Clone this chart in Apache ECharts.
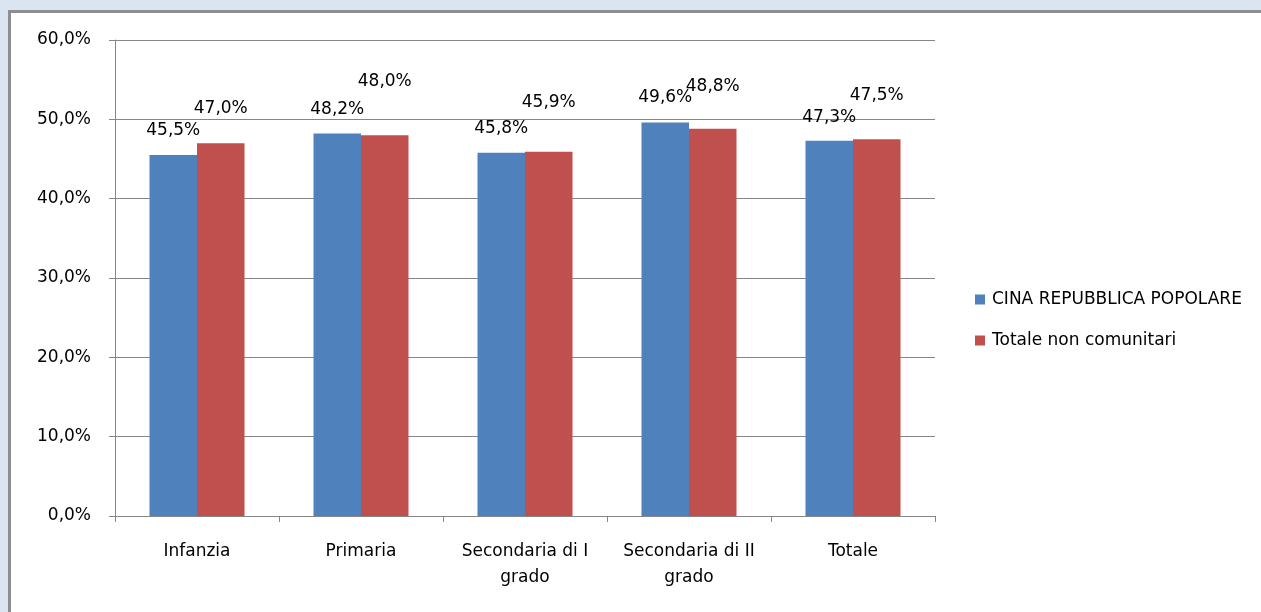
<!DOCTYPE html>
<html>
<head>
<meta charset="utf-8">
<script src="https://cdn.jsdelivr.net/npm/echarts@6/dist/echarts.min.js"></script>
<style>
html, body { margin: 0; padding: 0; width: 1261px; height: 612px; overflow: hidden; background: #dbe5f1; }
#frame { position: absolute; left: 8px; top: 10px; width: 2000px; height: 2000px; background: #ffffff; border-left: 3px solid #8e8e8e; border-top: 3px solid #8e8e8e; }
#chart { position: absolute; left: 0; top: 0; width: 1261px; height: 612px; }
</style>
</head>
<body>
<div id="frame"></div>
<div id="chart"></div>
<script>
const categories = ['Infanzia', 'Primaria', 'Secondaria di I\ngrado', 'Secondaria di II\ngrado', 'Totale'];
const seriesNames = ['CINA REPUBBLICA POPOLARE', 'Totale non comunitari'];
const cinaValues = [45.5, 48.2, 45.8, 49.6, 47.3];
const totaleValues = [47.0, 48.0, 45.9, 48.8, 47.5];
const yTicks = [0, 10, 20, 30, 40, 50, 60];

// label layout (distance above bar top, px)
const cinaLabelDistance = [16, 16, 16, 16, 15];
const totaleLabelDistance = [26, 45, 41, 34, 35];

const FONT = 'DejaVu Sans';
const fmt = v => v.toFixed(1).replace('.', ',') + '%';

function buildData(values, dists) {
  return values.map((v, i) => ({ value: v, label: { distance: dists[i] } }));
}

const chart = echarts.init(document.getElementById('chart'), null, { renderer: 'canvas' });
chart.setOption({
  animation: false,
  backgroundColor: 'transparent',
  textStyle: { fontFamily: FONT },
  grid: { left: 115, right: 326, top: 40, bottom: 96, containLabel: false },
  legend: {
    orient: 'vertical',
    left: 970,
    top: 286,
    itemWidth: 10,
    itemHeight: 10,
    itemGap: 24,
    icon: 'rect',
    textStyle: { fontFamily: FONT, fontSize: 17, color: '#000', padding: [0, 0, 0, 2] },
    data: seriesNames
  },
  xAxis: {
    type: 'category',
    data: categories,
    axisLine: { lineStyle: { color: '#868686', width: 1 } },
    axisTick: { show: true, length: 6, lineStyle: { color: '#868686' } },
    axisLabel: { margin: 23, fontFamily: FONT, fontSize: 17, color: '#000', lineHeight: 26, interval: 0 },
    splitLine: { show: false }
  },
  yAxis: {
    type: 'value',
    min: yTicks[0],
    max: yTicks[yTicks.length - 1],
    interval: 10,
    axisLine: { show: true, lineStyle: { color: '#868686', width: 1 } },
    axisTick: { show: true, length: 6, lineStyle: { color: '#868686' } },
    axisLabel: { margin: 24, fontFamily: FONT, fontSize: 17, color: '#000', formatter: v => fmt(v) },
    splitLine: { show: true, lineStyle: { color: '#868686', width: 1 } }
  },
  series: [
    {
      name: seriesNames[0],
      type: 'bar',
      data: buildData(cinaValues, cinaLabelDistance),
      barWidth: 47.5,
      barGap: '0%',
      itemStyle: { color: '#4f81bd' },
      label: { show: true, position: 'top', fontFamily: FONT, fontSize: 17, color: '#000', formatter: p => fmt(p.value) }
    },
    {
      name: seriesNames[1],
      type: 'bar',
      data: buildData(totaleValues, totaleLabelDistance),
      barWidth: 47.5,
      barGap: '0%',
      itemStyle: { color: '#c0504d' },
      label: { show: true, position: 'top', fontFamily: FONT, fontSize: 17, color: '#000', formatter: p => fmt(p.value) }
    }
  ]
});
</script>
</body>
</html>
